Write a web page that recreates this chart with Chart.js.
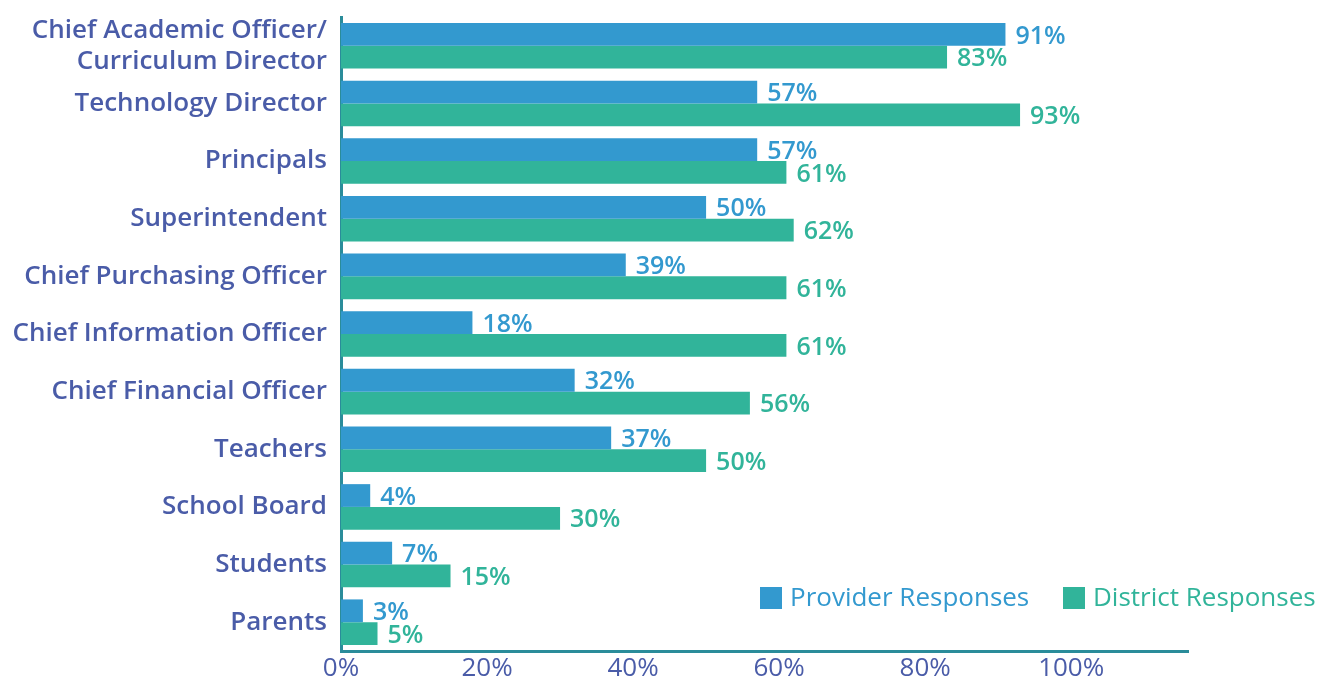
<!DOCTYPE html>
<html>
<head>
<meta charset="utf-8">
<script src="https://cdn.jsdelivr.net/npm/chart.js@4/dist/chart.umd.min.js"></script>
<style>
html, body { margin: 0; padding: 0; background: #fff; }
#wrap { width: 1317px; height: 685px; }
</style>
</head>
<body>
<div id="wrap"><canvas id="roles"></canvas></div>
<script>
const roles = [
    ['Chief Academic Officer/', 'Curriculum Director'],
    'Technology Director',
    'Principals',
    'Superintendent',
    'Chief Purchasing Officer',
    'Chief Information Officer',
    'Chief Financial Officer',
    'Teachers',
    'School Board',
    'Students',
    'Parents'
];
const providerValues = [91, 57, 57, 50, 39, 18, 32, 37, 4, 7, 3];
const districtValues = [83, 93, 61, 62, 61, 61, 56, 50, 30, 15, 5];
const seriesNames = ['Provider Responses', 'District Responses'];
const xTicks = [0, 20, 40, 60, 80, 100];

const blue = '#3399cf';
const green = '#31b49a';
const labelColor = '#4a5ca8';
const axisColor = '#2a8c9a';
const fontName = 'Open Sans';

// value labels at the end of each bar
const valueLabels = {
    id: 'valueLabels',
    afterDatasetsDraw(chart) {
        const ctx = chart.ctx;
        ctx.save();
        ctx.font = '600 25px "' + fontName + '"';
        ctx.textBaseline = 'middle';
        ctx.textAlign = 'left';
        chart.data.datasets.forEach(function(ds, i) {
            chart.getDatasetMeta(i).data.forEach(function(bar, j) {
                ctx.fillStyle = ds.backgroundColor;
                ctx.fillText(ds.data[j] + '%', bar.x + 10, bar.y + 2);
            });
        });
        ctx.restore();
    }
};

// legend drawn inside the plot, bottom right
const insideLegend = {
    id: 'insideLegend',
    afterDraw(chart) {
        const ctx = chart.ctx;
        ctx.save();
        ctx.font = '26px "' + fontName + '"';
        ctx.textBaseline = 'middle';
        const starts = [760, 1063];
        const y = 598;
        chart.data.datasets.forEach(function(ds, i) {
            ctx.fillStyle = ds.backgroundColor;
            ctx.fillRect(starts[i], y - 11, 22, 22);
            ctx.fillText(ds.label, starts[i] + 30, y + 1);
        });
        ctx.restore();
    }
};

new Chart(document.getElementById('roles'), {
    type: 'bar',
    data: {
        labels: roles,
        datasets: [
            { label: seriesNames[0], data: providerValues, backgroundColor: blue },
            { label: seriesNames[1], data: districtValues, backgroundColor: green }
        ]
    },
    options: {
        indexAxis: 'y',
        responsive: true,
        maintainAspectRatio: false,
        animation: false,
        categoryPercentage: 0.79,
        barPercentage: 1.0,
        layout: { padding: { top: 17, right: 129, bottom: 0, left: 0 } },
        plugins: {
            legend: { display: false },
            tooltip: { enabled: false }
        },
        scales: {
            x: {
                min: 0,
                max: 116,
                grid: { display: false, drawTicks: false },
                border: { color: axisColor, width: 3 },
                afterBuildTicks: function(scale) {
                    scale.ticks = xTicks.map(function(v) { return { value: v }; });
                },
                afterFit: function(scale) { scale.height = 34; },
                ticks: {
                    color: labelColor,
                    font: { family: fontName, size: 26 },
                    padding: 2,
                    autoSkip: false,
                    callback: function(v) { return v + '%'; }
                }
            },
            y: {
                grid: { display: false, drawTicks: false },
                border: { color: axisColor, width: 3 },
                afterFit: function(scale) {
                    scale.width = 341;
                    scale.paddingTop = 0;
                    scale.paddingBottom = 0;
                },
                ticks: {
                    color: labelColor,
                    font: { family: fontName, size: 26, weight: '600', lineHeight: 1.18 },
                    padding: 14,
                    autoSkip: false
                }
            }
        }
    },
    plugins: [valueLabels, insideLegend]
});
</script>
</body>
</html>
